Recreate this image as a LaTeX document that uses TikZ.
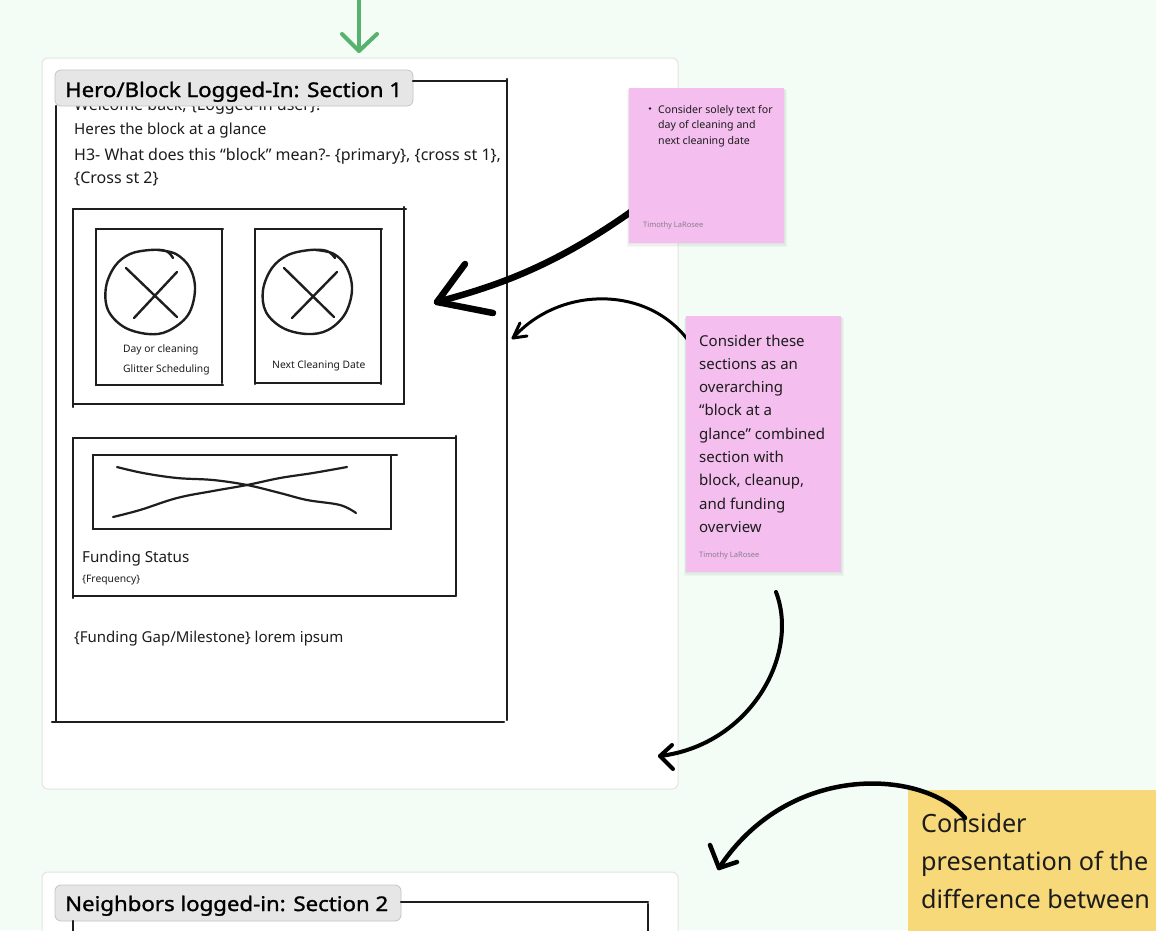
\documentclass[tikz,border=0pt]{standalone}
\usepackage{fontspec}
\setmainfont{Noto Sans}
\newfontfamily\titlefont{Noto Sans}[FakeBold=1.4, FakeStretch=1.1]
\definecolor{bg}{RGB}{243,252,245}
\definecolor{framec}{RGB}{226,229,226}
\definecolor{skc}{RGB}{30,30,30}
\definecolor{txt}{RGB}{28,28,28}
\definecolor{pinkc}{RGB}{244,190,239}
\definecolor{yellowc}{RGB}{247,217,121}
\definecolor{greenc}{RGB}{86,178,108}
\definecolor{labelfill}{RGB}{230,230,230}
\definecolor{labeldraw}{RGB}{196,196,196}
\definecolor{authc}{RGB}{140,124,138}
\begin{document}
\begin{tikzpicture}[x=1pt,y=-1pt,
  sk/.style={draw=skc, line width=2.4pt, line cap=round, line join=round},
  arr/.style={draw=black, line cap=round, line join=round},
  tx/.style={anchor=base west, inner sep=0pt, text=txt},
  t16/.style={tx, font=\fontsize{16}{19}\selectfont},
  t15/.style={tx, font=\fontsize{15.2}{18}\selectfont},
  t11/.style={tx, font=\fontsize{10.3}{13}\selectfont},
  tn/.style={tx, font=\fontsize{15}{18}\selectfont},
  t25/.style={tx, font=\fontsize{25.2}{29}\selectfont},
  tt/.style={tx, text=black, font=\titlefont\fontsize{20.2}{24}\selectfont},
  auth/.style={tx, text=authc, font=\fontsize{7.5}{9}\selectfont},
  lbl/.style={draw=labeldraw, fill=labelfill, rounded corners=6pt, line width=0.8pt},
  frame/.style={draw=framec, fill=white, rounded corners=6pt, line width=1pt},
  shadowc/.style={fill=black, opacity=0.03}
]
\useasboundingbox (0,0) rectangle (1156,930);
\clip (0,0) rectangle (1156,930);
\fill[bg] (0,0) rectangle (1156,930);

% frames
\draw[frame] (42,58) rectangle (678,789);
\draw[frame] (42,872) rectangle (678,980);

% green arrow
\coordinate (gtop) at (359,-5);
\coordinate (gtip) at (359,51);
\draw[draw=greenc, line width=4pt, line cap=round, line join=round] (gtop) -- (gtip);
\draw[draw=greenc, line width=4pt, line cap=round, line join=round] (342,34) -- (gtip) -- (377,34);

% ---------- Section 1 ----------
\node[t16] (welcome) at (74,110) {Welcome back, \{Logged-in user\}!};
\draw[lbl] (55,70) rectangle (413,106);
\node[tt] (title1) at (65,97) {Hero/Block Logged-In: Section 1};

% big sketch rect
\draw[sk] (413,81) -- (507,81);
\draw[sk] (507,79) -- (507,720);
\draw[sk] (52,722) -- (504,722);
\draw[sk] (56,106) -- (56,722);

\node[t15] (heres) at (74,134) {Heres the block at a glance};
\node[t16] (h3a) at (74,160) {H3- What does this “block” mean?- \{primary\}, \{cross st 1\},};
\node[t16] (h3b) at (74,183) {\{Cross st 2\}};

% box 1
\draw[sk] (73,209) -- (406,209);
\draw[sk] (404,207) -- (404,404);
\draw[sk] (73,404) -- (404,404);
\draw[sk] (73,209) -- (73,407);

% box A
\draw[sk] (96,229) -- (223,229);
\draw[sk] (222,229) -- (222,383);
\draw[sk] (96,385) -- (223,385);
\draw[sk] (96,229) -- (96,385);
\draw[sk] plot[smooth, tension=0.6] coordinates {(173,258) (166,251) (150,250) (130,254) (115,266) (106,287) (108,310) (124,327) (148,334) (168,331) (188,315) (195,290) (190,268) (176,254) (158,250)};
\draw[sk] (126,268) -- (177,317);
\draw[sk] (134,318) -- (177,272);
\node[t11] (dayc) at (123,352) {Day or cleaning};
\node[t11] (glit) at (123,372) {Glitter Scheduling};

% box B
\draw[sk] (255,229) -- (382,229);
\draw[sk] (381,229) -- (381,384);
\draw[sk] (255,383) -- (380,383);
\draw[sk] (255,229) -- (255,384);
\draw[sk] plot[smooth, tension=0.6] coordinates {(335,258) (327,251) (310,250) (288,255) (272,268) (263,290) (266,312) (283,328) (307,334) (328,330) (345,314) (352,290) (347,268) (334,254) (316,250)};
\draw[sk] (284,268) -- (334,317);
\draw[sk] (292,318) -- (337,272);
\node[t11] (nextc) at (272,368) {Next Cleaning Date};

% box 2
\draw[sk] (73,438) -- (456,438);
\draw[sk] (456,436) -- (456,595);
\draw[sk] (73,596) -- (456,596);
\draw[sk] (73,438) -- (73,598);
\draw[sk] (93,455) -- (397,455);
\draw[sk] (391,455) -- (391,529);
\draw[sk] (93,529) -- (391,529);
\draw[sk] (93,455) -- (93,529);
\draw[sk, line width=2.2pt] plot[smooth, tension=0.6] coordinates {(117,467) (143,473) (177,478) (213,480) (247,485) (280,493) (307,500) (340,505) (356,513)};
\draw[sk, line width=2.2pt] plot[smooth, tension=0.6] coordinates {(113,517) (140,510) (177,498) (213,491) (247,485) (280,478) (313,473) (347,467)};
\node[t15] (fund) at (82,562) {Funding Status};
\node[t11] (freq) at (82,582) {\{Frequency\}};
\node[tn] (gap) at (74,642) {\{Funding Gap/Milestone\} lorem ipsum};

% ---------- Section 2 ----------
\draw[lbl] (55,885) rectangle (401,921);
\node[tt] (title2) at (65,911) {Neighbors logged-in: Section 2};
\draw[sk] (401,902) -- (648,902);
\draw[sk] (648,904) -- (648,940);
\draw[sk] (73,921) -- (73,940);

% ---------- arrows under stickies ----------
\coordinate (a1s) at (650,198);
\coordinate (a1t) at (437,302);
\draw[arr, line width=6.5pt] (a1s) .. controls (560,265) and (500,285) .. (a1t);
\draw[arr, line width=6.5pt] (465,264) -- (a1t) -- (493,313);

\coordinate (a2s) at (690,343);
\coordinate (a2t) at (513,338);
\draw[arr, line width=3pt] (a2s) .. controls (650,285) and (560,285) .. (a2t);
\draw[arr, line width=3pt] (520,323) -- (a2t) -- (527,336);

% ---------- sticky notes ----------
\foreach \d in {1,2,3}{\fill[shadowc] (629-\d*0.7,88+\d*0.6) rectangle (784+\d*0.9,243+\d*1.4);}
\fill[pinkc] (629,88) rectangle (784,243);
\node[inner sep=0pt] (note1) at (706.5,165.5) {};
\fill[txt] (650,108.5) circle (1.4pt);
\node[tx, font=\fontsize{10.6}{13}\selectfont] (n1a) at (658,113) {Consider solely text for};
\node[tx, font=\fontsize{10.6}{13}\selectfont] (n1b) at (658,128.5) {day of cleaning and};
\node[tx, font=\fontsize{10.6}{13}\selectfont] (n1c) at (658,144) {next cleaning date};
\node[auth] (n1d) at (643,227.5) {Timothy LaRosee};

\foreach \d in {1,2,3}{\fill[shadowc] (686-\d*0.7,316+\d*0.6) rectangle (841+\d*0.9,572+\d*1.4);}
\fill[pinkc] (686,316) rectangle (841,572);
\node[inner sep=0pt] (note2) at (763.5,444) {};
\foreach \t [count=\i] in {Consider these,sections as an,overarching,“block at a,glance” combined,section with,{block, cleanup,},and funding,overview}{
  \node[tx, font=\fontsize{15}{18}\selectfont] (n2l\i) at (699,{346+23.3*(\i-1)}) {\t};
}
\node[auth] (n2d) at (699,557) {Timothy LaRosee};

\fill[yellowc] (908,790) rectangle (1170,960);
\node[inner sep=0pt] (note3) at (1030,870) {};
\node[t25] (n3a) at (921,832) {Consider};
\node[t25] (n3b) at (921,870) {presentation of the};
\node[t25] (n3c) at (921,908) {difference between};

% ---------- free arrows ----------
\coordinate (a3s) at (776,592);
\coordinate (a3t) at (660,756);
\draw[arr, line width=4pt] (a3s) .. controls (800,655) and (750,745) .. (a3t);
\draw[arr, line width=4pt] (672,745) -- (a3t) -- (673,769);

\coordinate (a4s) at (965,818);
\coordinate (a4t) at (719,868);
\draw[arr, line width=4.5pt] (a4s) .. controls (925,770) and (790,760) .. (a4t);
\draw[arr, line width=4.5pt] (710,845) -- (a4t) -- (737,862);
\end{tikzpicture}
\end{document}
